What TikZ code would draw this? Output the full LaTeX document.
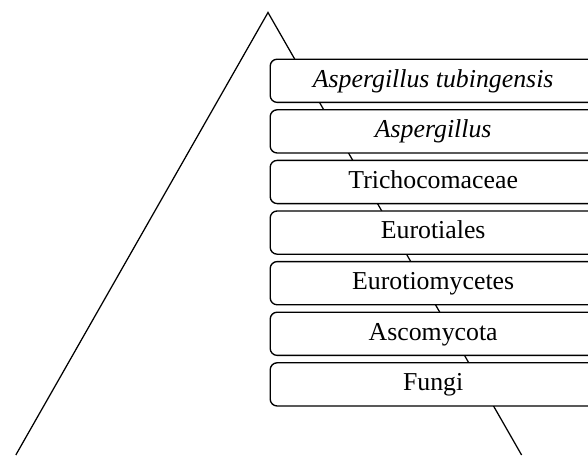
\documentclass[tikz,border=0pt]{standalone}
\usepackage{fontspec}
\setmainfont{Liberation Serif}
\begin{document}
\begin{tikzpicture}[x=1pt,y=-1pt,
  rank/.style={draw=black, line width=1.35pt, fill=white, rounded corners=7pt,
    anchor=north west, minimum width=326pt, minimum height=43.2pt,
    inner sep=0pt, text height=18pt, text depth=5.2pt,
    font=\fontsize{25.8}{30}\selectfont},
  side/.style={draw=black, line width=1.25pt}]
\useasboundingbox (0,0) rectangle (588,455);
\clip (0,0) rectangle (588,455);
\fill[white] (0,0) rectangle (588,455);

% pyramid outline, apex and the two feet
\coordinate (apex) at (268,12.5);
\coordinate (footL) at (15.8,455);
\coordinate (footR) at (521.6,455);
\draw[side, line join=miter] (footL) -- (apex) -- (footR);

% taxonomic ranks, top to bottom
\node[rank] (species) at (269.5,58.5)  {\itshape Aspergillus tubingensis};
\node[rank] (genus)   at (269.5,109.1) {\itshape Aspergillus};
\node[rank] (family)  at (269.5,159.7) {Trichocomaceae};
\node[rank] (order)   at (269.5,210.3) {Eurotiales};
\node[rank] (class)   at (269.5,260.9) {Eurotiomycetes};
\node[rank] (phylum)  at (269.5,311.5) {Ascomycota};
\node[rank] (kingdom) at (269.5,362.1) {Fungi};
\end{tikzpicture}
\end{document}
